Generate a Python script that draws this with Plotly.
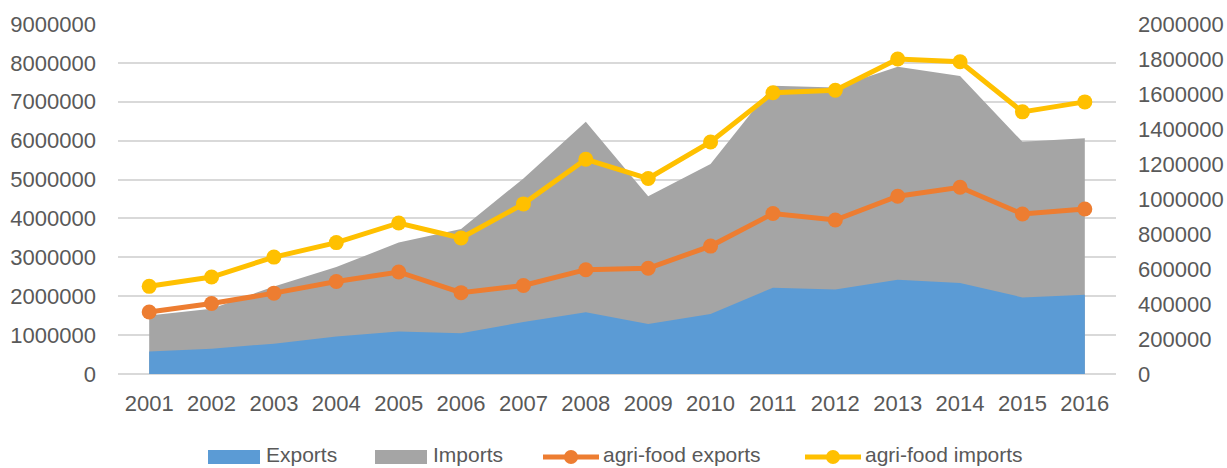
import plotly.graph_objects as go

years = [str(y) for y in range(2001, 2017)]

# Total trade (left axis)
exports = [580000, 650000, 780000, 965000, 1095000, 1050000, 1335000, 1585000,
           1285000, 1540000, 2220000, 2170000, 2425000, 2340000, 1970000, 2040000]
imports = [1505000, 1680000, 2250000, 2750000, 3380000, 3730000, 5030000, 6485000,
           4570000, 5400000, 7410000, 7370000, 7900000, 7660000, 5970000, 6065000]

# Agri-food trade (right axis)
agri_exports = [354000, 403000, 462000, 529000, 583000, 465000, 506000, 596000,
                604000, 731000, 917000, 880000, 1016000, 1067000, 914000, 943000]
agri_imports = [501000, 554000, 668000, 751000, 863000, 777000, 972000, 1227000,
                1117000, 1326000, 1607000, 1621000, 1800000, 1784000, 1498000, 1555000]

left_ticks = list(range(0, 9000001, 1000000))
right_ticks = list(range(0, 2000001, 200000))

FONT = "Liberation Sans"
TXT = "#595959"
BLUE, GREY, ORANGE, YELLOW = "#5B9BD5", "#A5A5A5", "#ED7D31", "#FFC000"

W, H = 1227, 468
ML, MR, MT, MB = 118, 111, 24, 94
PW, PH = W - ML - MR, H - MT - MB


def px_x(px):
    return (px - ML) / PW


def px_y(py):
    return (H - MB - py) / PH


fig = go.Figure()

fig.add_trace(go.Scatter(
    x=years, y=imports, name="Imports", mode="none", fill="tozeroy",
    fillcolor=GREY, hoverinfo="skip"))
fig.add_trace(go.Scatter(
    x=years, y=exports, name="Exports", mode="none", fill="tozeroy",
    fillcolor=BLUE, hoverinfo="skip"))
fig.add_trace(go.Scatter(
    x=years, y=agri_exports, name="agri-food exports", mode="lines+markers",
    line=dict(color=ORANGE, width=5), marker=dict(size=15, color=ORANGE),
    yaxis="y2"))
fig.add_trace(go.Scatter(
    x=years, y=agri_imports, name="agri-food imports", mode="lines+markers",
    line=dict(color=YELLOW, width=5), marker=dict(size=15, color=YELLOW),
    yaxis="y2"))

# Legend row below the plot
legend_y = 457
text_y = 455
shapes, annotations = [], []
for x0, x1, color, label in [(208, 260, BLUE, "Exports"), (375, 427, GREY, "Imports")]:
    shapes.append(dict(type="rect", xref="paper", yref="paper",
                       x0=px_x(x0), x1=px_x(x1),
                       y0=px_y(legend_y + 7), y1=px_y(legend_y - 7),
                       fillcolor=color, line=dict(width=0)))
    annotations.append(dict(text=label, xref="paper", yref="paper",
                            x=px_x(x1 + 4), y=px_y(text_y), xanchor="left",
                            yanchor="middle", showarrow=False,
                            font=dict(family=FONT, size=21, color=TXT)))
for x0, x1, color, label in [(543, 599, ORANGE, "agri-food exports"),
                             (805, 861, YELLOW, "agri-food imports")]:
    shapes.append(dict(type="line", xref="paper", yref="paper",
                       x0=px_x(x0), x1=px_x(x1), y0=px_y(legend_y), y1=px_y(legend_y),
                       line=dict(color=color, width=5)))
    shapes.append(dict(type="circle", xref="paper", yref="paper",
                       xsizemode="pixel", ysizemode="pixel",
                       xanchor=px_x((x0 + x1) / 2), yanchor=px_y(legend_y),
                       x0=-7, x1=7, y0=-7, y1=7,
                       fillcolor=color, line=dict(width=0)))
    annotations.append(dict(text=label, xref="paper", yref="paper",
                            x=px_x(x1 + 2), y=px_y(text_y), xanchor="left",
                            yanchor="middle", showarrow=False,
                            font=dict(family=FONT, size=21, color=TXT)))

fig.update_layout(
    width=W, height=H,
    margin=dict(l=ML, r=MR, t=MT, b=MB, autoexpand=False),
    paper_bgcolor="white", plot_bgcolor="white",
    font=dict(family=FONT, size=22, color=TXT),
    showlegend=False,
    shapes=shapes, annotations=annotations,
    xaxis=dict(
        type="category", range=[-0.5, 15.5], showgrid=False, automargin=False,
        showline=False, zeroline=False, ticks="", ticklabelstandoff=14,
        tickfont=dict(family=FONT, size=22, color=TXT)),
    yaxis=dict(
        range=[0, 9000000], tickvals=left_ticks, automargin=False,
        ticktext=[str(v) for v in left_ticks],
        showgrid=True, gridcolor="#D9D9D9", gridwidth=1.5,
        zeroline=True, zerolinecolor="#D9D9D9", zerolinewidth=1.5,
        showline=False, ticks="", ticklabelstandoff=21,
        tickfont=dict(family=FONT, size=22, color=TXT)),
    yaxis2=dict(
        range=[0, 2000000], tickvals=right_ticks, automargin=False,
        ticktext=[str(v) for v in right_ticks],
        overlaying="y", side="right", showgrid=False, zeroline=False,
        showline=False, ticks="", ticklabelstandoff=21,
        tickfont=dict(family=FONT, size=22, color=TXT)),
)

fig.write_html("out.html")
